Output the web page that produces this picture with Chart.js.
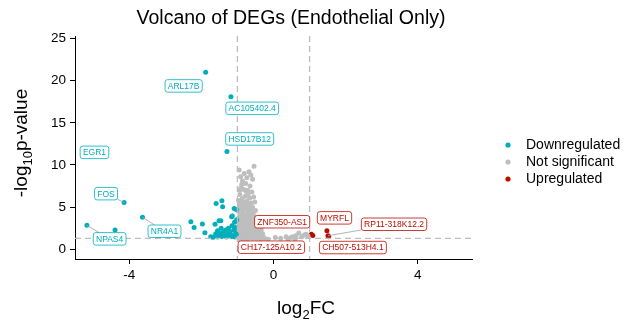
<!DOCTYPE html>
<html><head><meta charset="utf-8">
<script src="https://cdn.jsdelivr.net/npm/chart.js@4"></script>
<style>html,body{margin:0;padding:0;background:#fff}#wrap{width:626px;height:325px;position:relative}</style>
</head><body><div id="wrap"><canvas id="c" width="626" height="325"></canvas></div>
<script>
// ---------- data ----------
const xTicks = [-4, 0, 4];
const yTicks = [0, 5, 10, 15, 20, 25];
const pThreshold = 1.3;      // -log10(0.05)
const fcThreshold = [-1, 1];

const groupNames = ['Downregulated', 'Not significant', 'Upregulated'];

// Downregulated genes [log2FC, -log10p]
const downregulated = [
  [-1.88,21.0],[-1.18,18.1],[-1.29,11.6],[-5.0,11.3],[-4.14,5.56],[-5.17,2.84],[-3.63,3.79],
  [-4.39,2.28],[-2.29,3.27],[-2.2,2.6],[-1.97,3.0],[-1.9,1.97],[-1.59,5.44],[-1.43,5.75],
  [-1.41,5.04],[-1.62,2.96],[-1.46,3.38],[-1.14,3.94],[-1.03,4.73],[-1.09,4.85],[-1.65,1.49],
  [-1.51,1.89],[-1.32,2.28],[-1.2,2.08],[-1.74,1.5],[-1.68,1.42],[-1.6,1.55],[-1.55,1.45],
  [-1.45,1.5],[-1.38,1.62],[-1.3,1.45],[-1.25,1.7],[-1.18,1.5],[-1.12,1.65],[-1.07,1.45],
  [-1.03,1.8],[-1.42,1.95],[-1.35,2.1],[-1.55,2.2],[-1.1,2.3],[-1.05,2.6],[-1.15,2.8],
  [-1.08,3.2],[-1.02,3.5],[-1.25,2.5],[-1.45,2.5],[-1.05,2.05],[-1.6,1.85],[-1.28,1.9],
  [-1.16,3.86],[-1.51,3.38]
];
// Not significant genes
const notSignificant = [
  [-0.54,9.86],[-0.95,9.4],[-0.68,9.2],[-0.81,9.0],[-0.63,8.8],[-0.91,8.6],[-0.77,7.8],[-0.72,7.0],
  [-0.58,8.3],[-0.86,8.1],[-0.65,7.5],[-0.9,7.3],[-0.82,7.1],[-0.7,6.6],[-0.6,6.8],[-0.93,6.5],
  [-0.78,6.3],[-0.66,6.1],[-0.87,6.0],[-0.55,6.2],[-0.74,8.5],[-0.88,7.7],[-0.76,6.9],[-0.94,7.0],
  [-0.97,5.8],[-0.84,5.6],[-0.74,5.7],[-0.62,5.5],[-0.52,5.6],[-0.95,5.3],[-0.8,5.2],[-0.69,5.1],
  [-0.58,5.0],[-0.9,4.9],[-0.76,4.8],[-0.64,4.7],[-0.5,4.6],[-0.98,4.5],[-0.85,4.4],[-0.72,4.3],
  [-0.6,4.2],[-0.93,4.1],[-0.8,4.0],[-0.67,3.9],[-0.54,3.9],[-0.96,3.7],[-0.87,3.6],[-0.75,3.6],
  [-0.63,3.5],[-0.5,3.4],[-0.9,5.55],[-0.78,5.45],[-0.97,4.75],[-0.56,4.35],[-0.74,4.05],
  [-0.99,3.3],[-0.9,3.2],[-0.79,3.2],[-0.68,3.1],[-0.57,3.0],[-0.46,3.0],[-0.95,2.9],[-0.84,2.8],
  [-0.73,2.8],[-0.62,2.7],[-0.52,2.6],[-0.41,2.6],[-0.98,2.5],[-0.88,2.4],[-0.77,2.4],[-0.66,2.3],
  [-0.55,2.3],[-0.45,2.2],[-0.93,2.1],[-0.82,2.1],[-0.71,2.0],[-0.6,2.0],[-0.49,1.9],[-0.38,1.9],
  [-0.97,1.8],[-0.86,1.8],[-0.75,1.7],[-0.64,1.7],[-0.53,1.6],[-0.42,1.6],[-0.32,1.5],[-0.92,1.5],
  [-0.81,1.4],[-0.7,1.4],[-0.59,1.3],[-0.48,1.3],[-0.36,1.2],[-0.95,1.2],[-0.84,1.1],[-0.73,1.1],
  [-0.25,1.3],[-0.15,1.2],
  [-0.92,5.0],[-0.7,5.4],[-0.86,4.7],[-0.66,4.45],[-0.82,3.8],[-0.58,3.7],[-0.92,3.45],[-0.7,3.35],
  [-0.52,3.2],[-0.86,3.05],[-0.64,2.95],[-0.78,2.6],[-0.58,2.5],[-0.92,2.3],[-0.7,2.2],[-0.5,2.1],
  [-0.86,1.95],[-0.62,1.85],[-0.44,1.75],[-0.9,1.65],[-0.7,1.55],[-0.56,1.45],[-0.4,1.4],
  [-0.34,2.3],[-0.3,1.85],[-0.45,2.75],[-0.28,1.45],
  [0.05,1.4],[0.2,1.3],[0.35,1.5],[0.48,1.4],[0.53,1.49],[0.62,1.6],[0.7,1.93],[0.78,1.5],
  [0.85,1.7],[0.9,1.8],[0.95,1.6],[0.4,1.2],[0.6,1.25]
];
// Upregulated genes
const upregulated = [[1.05,1.78],[1.09,1.64],[1.48,2.2],[1.51,1.61],[1.53,1.5]];

// Gene labels: which point (group, index) and where the label sits (data units)
const geneLabels = [
  {gene:'ARL17B',        group:0, idx:0, lx:-2.49, ly:19.38, seg:false},
  {gene:'AC105402.4',    group:0, idx:1, lx:-0.59, ly:16.72, seg:false},
  {gene:'HSD17B12',      group:0, idx:2, lx:-0.66, ly:13.09, seg:false},
  {gene:'EGR1',          group:0, idx:3, lx:-4.96, ly:11.5,  seg:false},
  {gene:'FOS',           group:0, idx:4, lx:-4.64, ly:6.6,   seg:true},
  {gene:'NPAS4',         group:0, idx:5, lx:-4.54, ly:1.24,  seg:true},
  {gene:'NR4A1',         group:0, idx:6, lx:-3.02, ly:2.14,  seg:true},
  {gene:'ZNF350-AS1',    group:2, idx:0, lx:0.24,  ly:3.27,  seg:false},
  {gene:'CH17-125A10.2', group:2, idx:1, lx:-0.06, ly:0.25,  seg:false},
  {gene:'MYRFL',         group:2, idx:2, lx:1.69,  ly:3.73,  seg:false},
  {gene:'RP11-318K12.2', group:2, idx:3, lx:3.34,  ly:2.97,  seg:true},
  {gene:'CH507-513H4.1', group:2, idx:4, lx:2.2,   ly:0.21,  seg:false}
];

// ---------- styles ----------
const COLORS = ['#00AFBB', '#BEBEBE', '#BB0C00'];
const FONT = 'Liberation Sans, Arial, Helvetica, sans-serif';
const groups = [downregulated, notSignificant, upregulated];

function toXY(arr){ return arr.map(p => ({x:p[0], y:p[1]})); }

const overlay = {
  id:'overlay',
  afterDatasetsDraw(chart){
    const ctx = chart.ctx, xs = chart.scales.x, ys = chart.scales.y, a = chart.chartArea;
    ctx.save();
    // threshold lines
    ctx.strokeStyle = '#BDBDBD'; ctx.lineWidth = 1.3; ctx.setLineDash([6,4]);
    fcThreshold.forEach(v => {
      const px = xs.getPixelForValue(v);
      ctx.beginPath(); ctx.moveTo(px, a.top); ctx.lineTo(px, a.bottom); ctx.stroke();
    });
    const py = ys.getPixelForValue(pThreshold);
    ctx.beginPath(); ctx.moveTo(a.left, py); ctx.lineTo(a.right, py); ctx.stroke();
    ctx.setLineDash([]);
    // labels
    ctx.font = '8.5px ' + FONT;
    ctx.textAlign = 'center'; ctx.textBaseline = 'middle';
    geneLabels.forEach(L => {
      const pt = groups[L.group][L.idx];
      const px0 = xs.getPixelForValue(pt[0]), py0 = ys.getPixelForValue(pt[1]);
      const cx = xs.getPixelForValue(L.lx), cy = ys.getPixelForValue(L.ly);
      const tw = ctx.measureText(L.gene).width;
      const w = tw + 5.5, h = 12.5;
      if (L.seg){
        const dx = cx - px0, dy = cy - py0;
        const tx = dx !== 0 ? (Math.abs(dx) - w/2) / Math.abs(dx) : 1;
        const ty = dy !== 0 ? (Math.abs(dy) - h/2) / Math.abs(dy) : 1;
        const tt = Math.min(tx > 0 ? tx : 1, ty > 0 ? ty : 1);
        const tf = Math.max(tx, ty) < 1 ? Math.max(tx, ty) : tt;
        ctx.strokeStyle = '#A0A0A0'; ctx.lineWidth = 0.8;
        ctx.beginPath(); ctx.moveTo(px0, py0); ctx.lineTo(px0 + dx*tf, py0 + dy*tf); ctx.stroke();
      }
      const col = COLORS[L.group];
      ctx.fillStyle = '#fff'; ctx.strokeStyle = col; ctx.lineWidth = 0.8;
      ctx.beginPath();
      if (ctx.roundRect) ctx.roundRect(cx - w/2, cy - h/2, w, h, 2.5); else ctx.rect(cx - w/2, cy - h/2, w, h);
      ctx.fill(); ctx.stroke();
      ctx.fillStyle = col;
      ctx.fillText(L.gene, cx, cy + 0.5);
    });
    ctx.restore();
  },
  afterDraw(chart){
    const ctx = chart.ctx;
    ctx.save();
    ctx.fillStyle = '#000';
    // title
    ctx.font = '19.5px ' + FONT; ctx.textAlign = 'center'; ctx.textBaseline = 'alphabetic';
    ctx.fillText('Volcano of DEGs (Endothelial Only)', 291, 24);
    // axis titles with subscripts
    function subText(parts, x, y, main, sub){
      let total = 0;
      parts.forEach(p => { ctx.font = (p.s ? sub : main) + 'px ' + FONT; total += ctx.measureText(p.t).width; });
      let cx = x - total/2;
      ctx.textAlign = 'left';
      parts.forEach(p => {
        ctx.font = (p.s ? sub : main) + 'px ' + FONT;
        ctx.fillText(p.t, cx, y + (p.s ? 4.5 : 0));
        cx += ctx.measureText(p.t).width;
      });
    }
    subText([{t:'log'},{t:'2',s:true},{t:'FC'}], 306, 314, 19, 13);
    ctx.save();
    ctx.translate(27, 143); ctx.rotate(-Math.PI/2);
    subText([{t:'-log'},{t:'10',s:true},{t:'p-value'}], 0, 0, 19, 13);
    ctx.restore();
    // legend
    ctx.font = '14px ' + FONT; ctx.textAlign = 'left'; ctx.textBaseline = 'middle';
    groupNames.forEach((n, i) => {
      const y = 145 + i*17;
      ctx.fillStyle = COLORS[i];
      ctx.beginPath(); ctx.arc(508, y, 2.6, 0, Math.PI*2); ctx.fill();
      ctx.fillStyle = '#000';
      ctx.fillText(n, 526, y + 0.5);
    });
    ctx.restore();
  }
};

new Chart(document.getElementById('c'), {
  type:'scatter',
  data:{
    datasets: groups.map((g, i) => ({
      label: groupNames[i],
      data: toXY(g),
      backgroundColor: COLORS[i],
      borderWidth: 0,
      pointRadius: 2.5,
      pointHoverRadius: 2.5
    }))
  },
  options:{
    responsive:false, animation:false, devicePixelRatio:1,
    layout:{padding:{top:36, right:154, bottom:0, left:0}},
    plugins:{legend:{display:false}, title:{display:false}, tooltip:{enabled:false}},
    scales:{
      x:{
        type:'linear', min:-5.5, max:5.5,
        afterBuildTicks(s){ s.ticks = xTicks.map(v => ({value:v})); },
        afterFit(s){ s.height = 66; },
        grid:{display:true, drawOnChartArea:false, drawTicks:true, tickLength:5, color:'#000', lineWidth:1},
        border:{display:true, color:'#000', width:1},
        ticks:{color:'#000', font:{family:FONT, size:13.5}, padding:3, maxRotation:0, autoSkip:false}
      },
      y:{
        type:'linear', min:-1.15, max:25.3,
        afterBuildTicks(s){ s.ticks = yTicks.map(v => ({value:v})); },
        afterFit(s){ s.width = 75; },
        grid:{display:true, drawOnChartArea:false, drawTicks:true, tickLength:5, color:'#000', lineWidth:1},
        border:{display:true, color:'#000', width:1},
        ticks:{color:'#000', font:{family:FONT, size:13.5}, padding:4, autoSkip:false}
      }
    }
  },
  plugins:[overlay]
});
</script>
</body></html>
